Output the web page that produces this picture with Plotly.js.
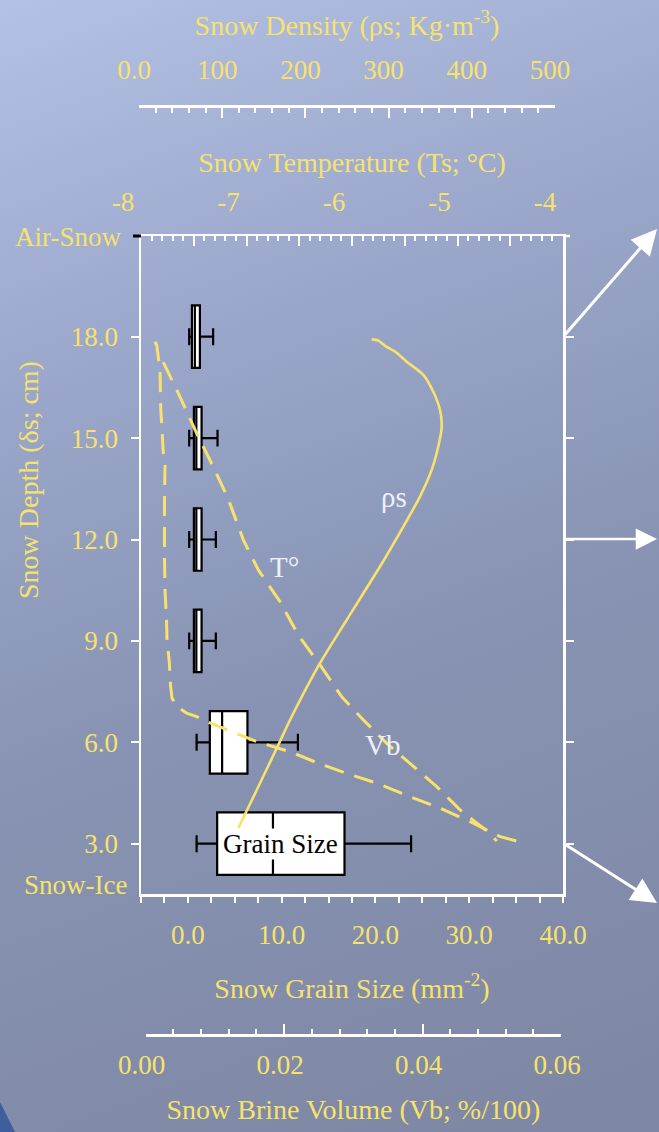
<!DOCTYPE html>
<html>
<head>
<meta charset="utf-8">
<script src="https://cdn.plot.ly/plotly-3.0.1.min.js"></script>
<style>
  html, body { margin:0; padding:0; width:659px; height:1132px; overflow:hidden; }
  body { background: linear-gradient(160deg, #B3C1E5 0%, #9BA8CB 28%, #8893B3 58%, #7D87A3 100%); position:relative; }
  #chart { width:659px; height:1132px; position:absolute; left:0; top:0; }
  #corner { position:absolute; left:0; top:1102px; width:15px; height:30px; background:#3E5E9E; clip-path: polygon(0 0, 100% 100%, 0 100%); }
</style>
</head>
<body>
<div id="corner"></div>
<div id="chart"></div>
<script>
// ---------------- data ----------------
const depthTickVals = [3, 6, 9, 12, 15, 18];
const depthTickText = ['3.0', '6.0', '9.0', '12.0', '15.0', '18.0'];

// grain size box plots (mm^-2) at each depth (cm)
const boxDepth  = [18, 15, 12, 9, 6, 3];
const gsLower   = [0.14, 0.14, 0.14, 0.14, 0.93, 0.93];
const gsQ1      = [0.43, 0.64, 0.64, 0.64, 2.34, 3.12];
const gsMedian  = [0.74, 0.90, 0.90, 0.90, 3.65, 9.07];
const gsQ3      = [1.28, 1.46, 1.46, 1.46, 6.35, 16.70];
const gsUpper   = [2.69, 3.16, 2.98, 2.98, 11.73, 23.80];

// snow density profile (kg m^-3)
const rhoDepth = [17.92, 17.89, 17.80, 17.70, 17.56, 17.26, 16.87, 16.37, 15.83, 15.34, 14.75, 14.06, 13.27, 12.38, 11.20, 9.62, 8.34, 6.66, 5.92, 4.59, 3.46];
const rhoValue = [279.7, 287.3, 292.1, 297.7, 307.7, 321.8, 341.7, 353.7, 361.8, 363.8, 359.7, 351.8, 337.7, 317.7, 289.7, 249.6, 217.5, 181.5, 167.4, 141.5, 119.4];

// snow temperature profile (deg C)
const tDepth = [17.25, 16.22, 15.14, 14.15, 13.20, 11.99, 11.10, 10.16, 9.17, 8.29, 7.35, 6.71, 5.97, 5.28, 4.69, 4.00, 3.46, 3.08];
const tValue = [-7.789, -7.630, -7.472, -7.315, -7.173, -7.030, -6.888, -6.682, -6.509, -6.303, -6.098, -5.908, -5.671, -5.419, -5.197, -4.976, -4.755, -4.626];

// snow brine volume profile (fraction)
const vbDepth = [17.85, 17.75, 17.01, 15.89, 15.24, 14.56, 14.20, 13.17, 11.39, 10.51, 9.62, 9.03, 8.38, 7.70, 7.31, 7.07, 6.86, 6.76, 6.61, 6.37, 6.02, 5.72, 5.38, 5.08, 4.79, 4.39, 4.05, 3.65, 3.21, 3.01];
const vbValue = [0.00134, 0.00159, 0.00207, 0.00217, 0.00236, 0.00254, 0.00279, 0.00272, 0.00272, 0.00279, 0.00301, 0.00308, 0.00341, 0.00358, 0.0038, 0.00448, 0.00592, 0.00737, 0.00882, 0.01171, 0.01604, 0.02085, 0.02494, 0.02905, 0.03338, 0.03819, 0.04253, 0.04687, 0.0512, 0.05481];

// axis ticks
const gsTickVals = [-5,-2.5,0,2.5,5,7.5,10,12.5,15,17.5,20,22.5,25,27.5,30,32.5,35,37.5,40];
const gsTickText = ['','','0.0','','','','10.0','','','','20.0','','','','30.0','','','','40.0'];
const tTickVals = [-8,-7.5,-7,-6.5,-6,-5.5,-5,-4.5,-4];
const tTickText = ['-8','','-7','','-6','','-5','','-4'];
const rhoTickVals = [0,100,200,300,400,500];
const rhoTickText = ['0.0','100','200','300','400','500'];
const vbTickVals = [0,0.02,0.04,0.06];
const vbTickText = ['0.00','0.02','0.04','0.06'];

// ---------------- styling ----------------
const W = 659, H = 1132;
const px = v => v / W;
const py = v => 1 - v / H;
const YEL = '#F8E26C';
const FONT = 'Liberation Serif, Times New Roman, serif';
const tickFont = {family: FONT, size: 27, color: YEL};
const titleFont = {family: FONT, size: 28, color: YEL};
const Y_RANGE = [1.512, 20.979];

const traces = [
  {
    type: 'box', orientation: 'h', xaxis: 'x', yaxis: 'y',
    y: boxDepth, q1: gsQ1, median: gsMedian, q3: gsQ3,
    lowerfence: gsLower, upperfence: gsUpper,
    width: 1.85, whiskerwidth: 0.27, boxpoints: false,
    fillcolor: '#FFFFFF', line: {color: '#000000', width: 2.2},
    showlegend: false, hoverinfo: 'skip'
  },
  {
    type: 'scatter', mode: 'lines', xaxis: 'x2', yaxis: 'y',
    x: tValue, y: tDepth,
    line: {color: YEL, width: 3, dash: '20px,11px'},
    showlegend: false, hoverinfo: 'skip'
  },
  {
    type: 'scatter', mode: 'lines', xaxis: 'x3', yaxis: 'y',
    x: rhoValue, y: rhoDepth,
    line: {color: YEL, width: 2.6, shape: 'spline', smoothing: 0.6},
    showlegend: false, hoverinfo: 'skip'
  },
  {
    type: 'scatter', mode: 'lines', xaxis: 'x4', yaxis: 'y',
    x: vbValue, y: vbDepth,
    line: {color: YEL, width: 3, dash: '20px,11px'},
    showlegend: false, hoverinfo: 'skip'
  },
  {
    type: 'scatter', mode: 'lines', xaxis: 'x', yaxis: 'y2',
    x: [null], y: [null], showlegend: false, hoverinfo: 'skip'
  }
];

const axCommon = {
  showgrid: false, zeroline: false, showline: true,
  linecolor: '#FFFFFF', linewidth: 2.5,
  tickcolor: '#FFFFFF', tickwidth: 2,
  tickfont: tickFont, automargin: false, fixedrange: true
};

const layout = {
  width: W, height: H,
  margin: {l: 0, r: 0, t: 0, b: 0, pad: 0},
  paper_bgcolor: 'rgba(0,0,0,0)',
  plot_bgcolor: 'rgba(0,0,0,0)',
  showlegend: false,
  hovermode: false,
  font: {family: FONT, color: YEL},
  xaxis: Object.assign({}, axCommon, {
    domain: [px(141), px(563)], anchor: 'y', side: 'bottom',
    range: [-5, 40], tickmode: 'array', tickvals: gsTickVals, ticktext: gsTickText,
    ticks: 'outside', ticklen: 6, ticklabelstandoff: 9,
    title: {text: 'Snow Grain Size (mm<sup>-2</sup>)', font: titleFont, standoff: 30}
  }),
  xaxis2: Object.assign({}, axCommon, {
    domain: [px(141), px(563)], anchor: 'y', side: 'top', overlaying: 'x',
    range: [-8, -4], tickmode: 'array', tickvals: tTickVals, ticktext: tTickText,
    ticks: 'inside', ticklen: 10, ticklabelshift: -18, ticklabelstandoff: 12,
    minor: {dtick: 0.1, tick0: -8, ticks: 'inside', ticklen: 5, tickwidth: 2, tickcolor: '#FFFFFF'},
    title: {text: 'Snow Temperature (Ts; °C)', font: titleFont, standoff: 6}
  }),
  xaxis3: Object.assign({}, axCommon, {
    domain: [px(139), px(555)], anchor: 'free', position: py(106), side: 'top',
    range: [0, 500], tickmode: 'array', tickvals: rhoTickVals, ticktext: rhoTickText,
    ticks: 'inside', ticklen: 10, ticklabelshift: -5, ticklabelstandoff: 15,
    minor: {dtick: 20, tick0: 0, ticks: 'inside', ticklen: 5, tickwidth: 2, tickcolor: '#FFFFFF'},
    title: {text: 'Snow Density (ρs; Kg·m<sup>-3</sup>)', font: titleFont, standoff: 10}
  }),
  xaxis4: Object.assign({}, axCommon, {
    domain: [px(145.7), px(561)], anchor: 'free', position: py(1035), side: 'bottom',
    range: [0, 0.06], tickmode: 'array', tickvals: vbTickVals, ticktext: vbTickText,
    ticks: 'inside', ticklen: 10, ticklabelshift: -4, ticklabelstandoff: 5,
    minor: {dtick: 0.004, tick0: 0, ticks: 'inside', ticklen: 5, tickwidth: 2, tickcolor: '#FFFFFF'},
    title: {text: 'Snow Brine Volume (Vb; %/100)', font: titleFont, standoff: 20}
  }),
  yaxis: Object.assign({}, axCommon, {
    domain: [py(894), py(236)], anchor: 'x', side: 'left',
    range: Y_RANGE, tickmode: 'array', tickvals: depthTickVals, ticktext: depthTickText,
    ticks: 'outside', ticklen: 8, ticklabelstandoff: 7
  }),
  yaxis2: Object.assign({}, axCommon, {
    domain: [py(894), py(236)], anchor: 'x', side: 'right', overlaying: 'y',
    range: Y_RANGE, tickmode: 'array', tickvals: depthTickVals, ticktext: depthTickText,
    ticks: 'outside', ticklen: 8, showticklabels: false
  }),
  shapes: [
    {type: 'line', xref: 'paper', yref: 'paper', x0: px(563), x1: px(570), y0: py(236), y1: py(236), line: {color: '#FFFFFF', width: 2.5}},
    {type: 'line', xref: 'paper', yref: 'paper', x0: px(133), x1: px(141), y0: py(236), y1: py(236), line: {color: '#000000', width: 3}}
  ],
  annotations: [
    {xref: 'paper', yref: 'paper', x: px(28), y: py(480), xanchor: 'center', yanchor: 'middle', textangle: -90, text: 'Snow Depth (δs; cm)', showarrow: false, font: titleFont},
    {xref: 'paper', yref: 'paper', x: px(123), y: py(237), xanchor: 'right', yanchor: 'middle', text: 'Air-Snow', showarrow: false, font: {family: FONT, size: 27, color: YEL}},
    {xref: 'paper', yref: 'paper', x: px(129), y: py(885), xanchor: 'right', yanchor: 'middle', text: 'Snow-Ice', showarrow: false, font: {family: FONT, size: 27, color: YEL}},
    {xref: 'x', yref: 'y', x: 9.9, y: 3, text: 'Grain Size', showarrow: false, bgcolor: '#FFFFFF', borderpad: 0, font: {family: FONT, size: 27, color: '#000000'}},
    {xref: 'x', yref: 'y', x: 10.3, y: 11.18, text: 'T°', showarrow: false, font: {family: FONT, size: 29, color: '#EEF0F8'}},
    {xref: 'x', yref: 'y', x: 22.0, y: 13.26, text: 'ρs', showarrow: false, font: {family: FONT, size: 29, color: '#EEF0F8'}},
    {xref: 'x', yref: 'y', x: 20.7, y: 5.92, text: 'Vb', showarrow: false, font: {family: FONT, size: 29, color: '#EEF0F8'}},
    {xref: 'paper', yref: 'paper', x: px(657), y: py(229), axref: 'pixel', ayref: 'pixel', ax: -94, ay: 108, text: '', showarrow: true, arrowhead: 2, arrowsize: 1.7, arrowwidth: 3, arrowcolor: '#FFFFFF', standoff: 0, startstandoff: 0},
    {xref: 'paper', yref: 'paper', x: px(657), y: py(539), axref: 'pixel', ayref: 'pixel', ax: -94, ay: 0, text: '', showarrow: true, arrowhead: 2, arrowsize: 1.7, arrowwidth: 2.5, arrowcolor: '#FFFFFF', standoff: 0, startstandoff: 0},
    {xref: 'paper', yref: 'paper', x: px(657), y: py(903), axref: 'pixel', ayref: 'pixel', ax: -94, ay: -60, text: '', showarrow: true, arrowhead: 2, arrowsize: 1.7, arrowwidth: 3, arrowcolor: '#FFFFFF', standoff: 0, startstandoff: 0}
  ]
};

Plotly.newPlot('chart', traces, layout, {staticPlot: true, displayModeBar: false, responsive: false});
</script>
</body>
</html>
